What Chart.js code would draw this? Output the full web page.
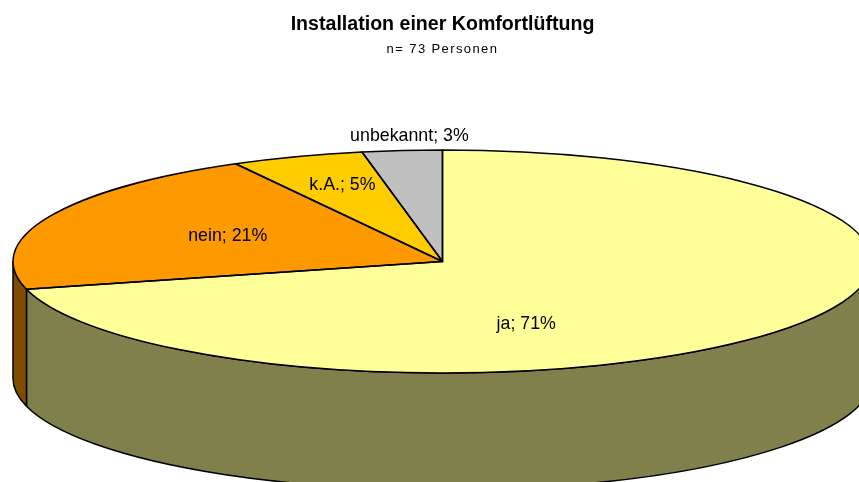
<!DOCTYPE html>
<html><head><meta charset="utf-8">
<style>html,body{margin:0;padding:0;background:#fff;overflow:hidden}canvas{display:block}</style>
<script src="https://cdn.jsdelivr.net/npm/chart.js@4/dist/chart.umd.min.js"></script>
</head><body><canvas id="c" width="859" height="482"></canvas>
<script>
const categories = ['ja','nein','k.A.','unbekannt'];
const values = [71,21,5,3];
const topColors = ['#FFFF99','#FF9900','#FFCC00','#C0C0C0'];
const sideColors = ['#80804D','#804D00','#806600','#606060'];
const titleText = 'Installation einer Komfortlüftung';
const subtitleText = 'n= 73 Personen';

const FONT = '"Liberation Sans", Arial, sans-serif';
const RX = 429.5, DEPTH = 117;
// label centres, as fractions of the ellipse half-axes from its centre
const labelSpots = [[.195,.56],[-.5,-.228],[-.233,-.685],[-.077,-1.125]];

const pie3d = {
  id:'pie3d',
  beforeDatasetsDraw(chart){
    const ctx = chart.ctx, arcs = chart.getDatasetMeta(0).data;
    ctx.save();
    ctx.lineJoin='round';
    arcs.forEach((a,i)=>{
      const {x,y,startAngle,endAngle,outerRadius:r} = a.getProps(['x','y','startAngle','endAngle','outerRadius']);
      const s0 = Math.max(startAngle,0), s1 = Math.min(endAngle,Math.PI);
      if (s1<=s0) return;
      ctx.beginPath();
      ctx.ellipse(x,y,RX,r,0,s0,s1,false);
      ctx.ellipse(x,y+DEPTH,RX,r,0,s1,s0,true);
      ctx.closePath();
      ctx.fillStyle=sideColors[i]; ctx.fill();
      ctx.strokeStyle='#000'; ctx.lineWidth=1.5; ctx.stroke();
    });
    ctx.restore();
    const a0 = arcs[0].getProps(['x','y','outerRadius']);
    ctx.save();
    ctx.translate(a0.x,a0.y);
    ctx.scale(RX/a0.outerRadius,1);
    ctx.translate(-a0.x,-a0.y);
  },
  afterDatasetsDraw(chart){
    const ctx = chart.ctx, arcs = chart.getDatasetMeta(0).data;
    ctx.restore();
    ctx.save();
    ctx.lineJoin='round';
    ctx.strokeStyle='#000'; ctx.lineWidth=1.5;
    arcs.forEach(a=>{
      const {x,y,startAngle,endAngle,outerRadius:r} = a.getProps(['x','y','startAngle','endAngle','outerRadius']);
      ctx.beginPath();
      ctx.moveTo(x,y);
      ctx.ellipse(x,y,RX,r,0,startAngle,endAngle,false);
      ctx.closePath();
      ctx.stroke();
    });
    const c = arcs[0].getProps(['x','y','outerRadius']);
    ctx.fillStyle='#000';
    ctx.font='17.8px '+FONT;
    ctx.textAlign='center'; ctx.textBaseline='middle';
    categories.forEach((n,i)=>{
      ctx.fillText(n+'; '+values[i]+'%', c.x+labelSpots[i][0]*RX, c.y+labelSpots[i][1]*c.outerRadius);
    });
    ctx.font='13px '+FONT;
    ctx.letterSpacing='1.4px';
    ctx.fillText(subtitleText, c.x, 49);
    ctx.restore();
  }
};

new Chart(document.getElementById('c'),{
  type:'pie',
  data:{labels:categories,datasets:[{data:values,backgroundColor:topColors,borderWidth:0}]},
  options:{
    responsive:false,animation:false,
    layout:{padding:{left:143,right:117,top:0,bottom:109}},
    plugins:{
      legend:{display:false},tooltip:{enabled:false},
      title:{display:true,text:titleText,color:'#000',align:'center',
        font:{family:FONT,size:19.6,weight:'bold',lineHeight:1},
        padding:{top:15,bottom:115.4}}
    }
  },
  plugins:[pie3d]
});
</script></body></html>
